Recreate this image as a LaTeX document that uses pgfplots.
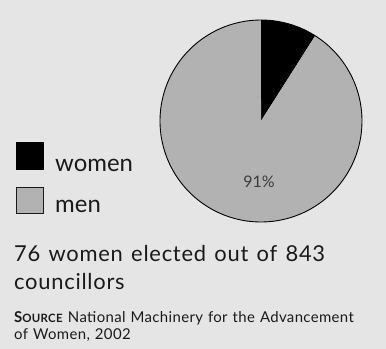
\documentclass[border=0pt]{standalone}
\usepackage{pgfplots}
\pgfplotsset{compat=1.18}
\usepackage{pgfplotstable}
\usepgfplotslibrary{polar}
\usepackage{fontspec}
\setmainfont{Lato}
\newfontfamily\spaced[LetterSpace=3.4,WordSpace=1.3]{Lato}
\newfontfamily\srcfont[LetterSpace=2.4,WordSpace=1.2]{Lato}
\definecolor{bg}{HTML}{E5E5E5}
\definecolor{mengray}{HTML}{B2B2B2}
\definecolor{txt}{HTML}{1A1A1A}
\pgfplotstableread{
group count
women 76
men 767
}\councildata
\pgfplotstablegetelem{0}{count}\of\councildata
\let\nwomen\pgfplotsretval
\pgfplotstablegetelem{1}{count}\of\councildata
\let\nmen\pgfplotsretval
\pgfmathsetmacro{\wfrac}{\nwomen/(\nwomen+\nmen)}
\pgfmathsetmacro{\mfrac}{\nmen/(\nwomen+\nmen)}
\pgfmathsetmacro{\wangle}{90-360*\wfrac}
\pgfmathsetmacro{\mangle}{\wangle-360*\mfrac}
\begin{document}
\begin{tikzpicture}
\useasboundingbox (0,0) rectangle (386bp,349bp);
\fill[bg] (0,0) rectangle (386bp,349bp);
\begin{polaraxis}[
  at={(261bp,228bp)}, anchor=center,
  scale only axis, width=202bp, height=202bp,
  hide axis, ymin=0, ymax=1,
  clip=false,
]
\addplot[fill=black, draw=none, domain=\wangle:90, samples=40] {1} -- (axis cs:0,0) -- cycle;
\addplot[fill=mengray, draw=none, domain=\mangle:\wangle, samples=200] {1} -- (axis cs:0,0) -- cycle;
\addplot[draw=black, line width=0.9bp, domain=0:360, samples=241] {1};
\end{polaraxis}
\node[anchor=base, text=txt!85, font=\fontsize{16}{18}\selectfont, inner sep=0] at (259bp,161bp) {91\%};
\fill[black] (16bp,179bp) rectangle (44bp,207bp);
\filldraw[fill=mengray, draw=txt, line width=0.8bp] (16.5bp,135.5bp) rectangle (43.5bp,162bp);
\node[anchor=base west, text=txt, font=\fontsize{24}{28}\selectfont, inner sep=0] at (55bp,177bp) {women};
\node[anchor=base west, text=txt, font=\fontsize{24}{28}\selectfont, inner sep=0] at (55bp,136bp) {men};
\node[anchor=base west, text=txt, font=\spaced\fontsize{22}{25}\selectfont, inner sep=0] at (14bp,87bp) {76 women elected out of 843};
\node[anchor=base west, text=txt, font=\spaced\fontsize{22}{25}\selectfont, inner sep=0] at (14bp,59bp) {councillors};
\node[anchor=base west, text=txt, font=\srcfont\fontsize{15}{17}\selectfont, inner sep=0] at (14bp,27bp) {\textbf{S{\fontsize{11.5}{13}\selectfont OURCE}} National Machinery for the Advancement};
\node[anchor=base west, text=txt, font=\srcfont\fontsize{15}{17}\selectfont, inner sep=0] at (14bp,10bp) {of Women, 2002};
\end{tikzpicture}
\end{document}
